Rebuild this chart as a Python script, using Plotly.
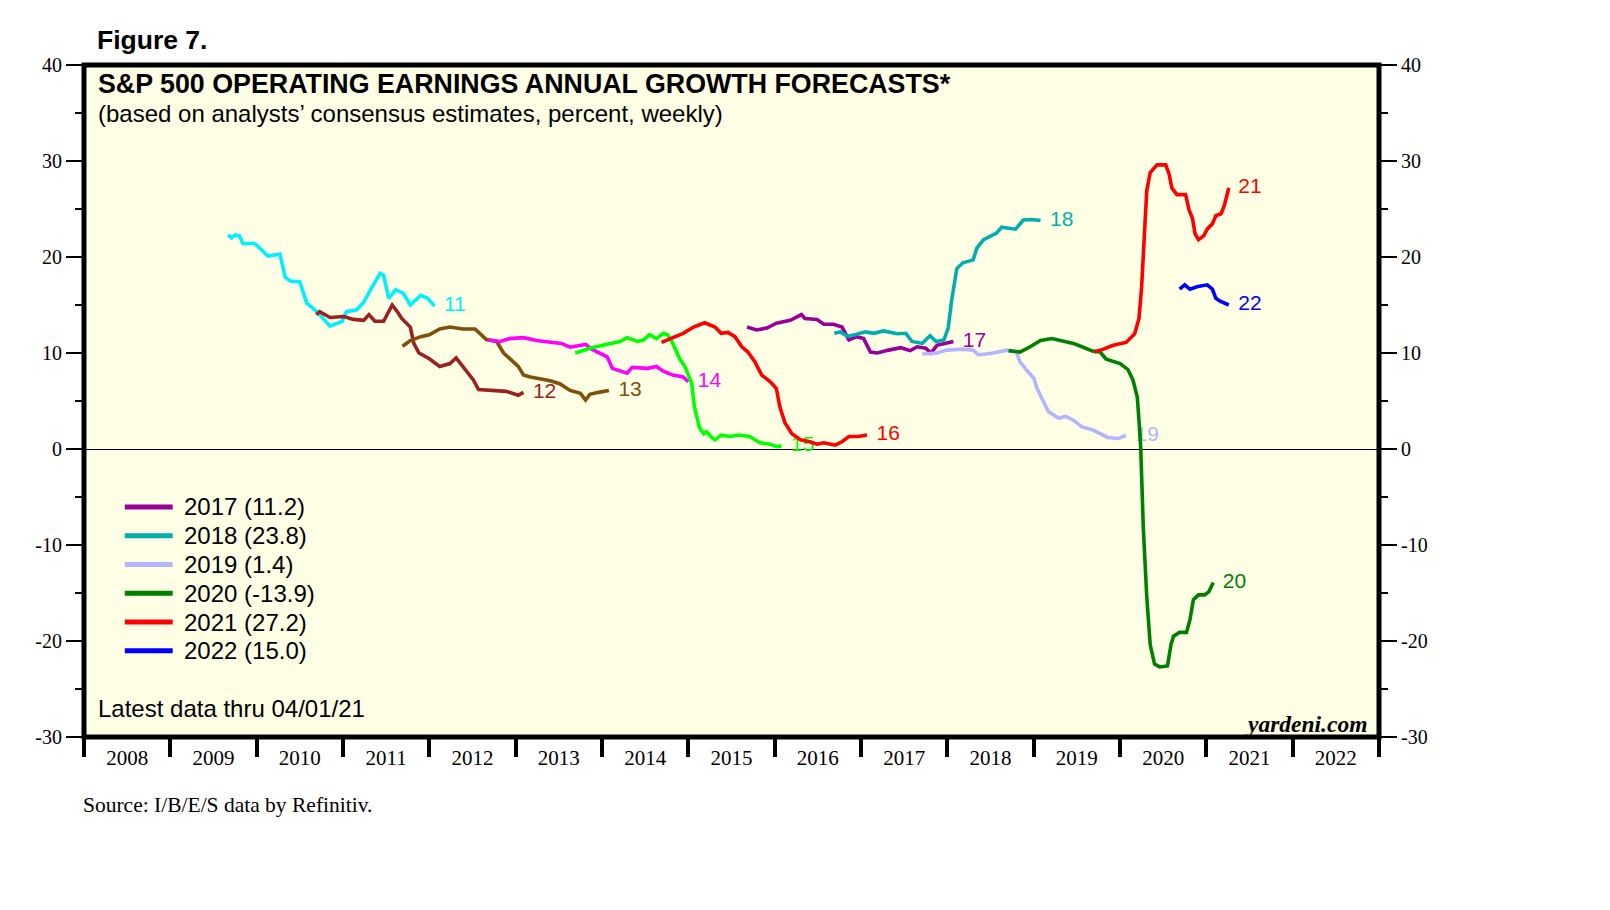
import plotly.graph_objects as go

# ---------------- data (decimal year, percent) ----------------
x2011 = [2009.67, 2009.71, 2009.75, 2009.80, 2009.84, 2009.98, 2010.13, 2010.27, 2010.33, 2010.39, 2010.50, 2010.58,
         2010.70, 2010.79, 2010.85, 2010.99, 2011.04, 2011.16, 2011.24, 2011.32, 2011.37, 2011.43, 2011.47, 2011.53,
         2011.61, 2011.70, 2011.78, 2011.90, 2011.98, 2012.06]
y2011 = [22.3, 22.0, 22.3, 22.2, 21.4, 21.4, 20.1, 20.3, 17.9, 17.5, 17.4, 15.2,
         14.3, 13.4, 12.8, 13.3, 14.3, 14.5, 15.3, 16.6, 17.4, 18.3, 18.1, 15.7,
         16.6, 16.2, 15.0, 16.0, 15.7, 14.9]

x2012 = [2010.69, 2010.73, 2010.85, 2011.01, 2011.12, 2011.24, 2011.30, 2011.37, 2011.47, 2011.57, 2011.63, 2011.68,
         2011.78, 2011.82, 2011.88, 2012.00, 2012.12, 2012.24, 2012.31, 2012.43, 2012.51, 2012.57, 2012.78, 2012.89,
         2013.03, 2013.09]
y2012 = [14.0, 14.3, 13.7, 13.8, 13.5, 13.4, 14.0, 13.3, 13.3, 15.0, 14.3, 13.6,
         12.7, 11.0, 10.0, 9.4, 8.6, 8.9, 9.5, 8.2, 7.2, 6.2, 6.1, 6.0,
         5.6, 5.9]

x2013 = [2011.69, 2011.78, 2011.90, 2012.00, 2012.12, 2012.24, 2012.39, 2012.53, 2012.66, 2012.78, 2012.86, 2012.95,
         2013.03, 2013.09, 2013.17, 2013.40, 2013.51, 2013.63, 2013.75, 2013.81, 2013.86, 2013.96, 2014.08]
y2013 = [10.7, 11.3, 11.7, 11.9, 12.5, 12.7, 12.5, 12.5, 11.4, 11.2, 10.0, 9.3,
         8.6, 7.7, 7.5, 7.1, 6.8, 6.1, 5.8, 5.1, 5.7, 5.9, 6.1]

x2014 = [2012.68, 2012.82, 2012.93, 2013.09, 2013.24, 2013.40, 2013.53, 2013.63, 2013.81, 2013.88, 2014.06, 2014.12,
         2014.29, 2014.35, 2014.53, 2014.63, 2014.71, 2014.82, 2014.94, 2015.00]
y2014 = [11.35, 11.2, 11.5, 11.6, 11.3, 11.1, 11.0, 10.6, 10.9, 10.4, 9.6, 8.4,
         7.9, 8.5, 8.4, 8.6, 8.1, 7.7, 7.5, 7.0]

x2015 = [2013.69, 2013.86, 2014.06, 2014.21, 2014.29, 2014.41, 2014.48, 2014.55, 2014.63, 2014.71, 2014.76, 2014.82,
         2014.90, 2014.96, 2015.04, 2015.07, 2015.13, 2015.18, 2015.21, 2015.27, 2015.31, 2015.38, 2015.48, 2015.58,
         2015.71, 2015.83, 2015.95, 2016.02, 2016.08]
y2015 = [10.0, 10.5, 10.9, 11.2, 11.6, 11.2, 11.35, 11.9, 11.5, 12.05, 11.9, 11.0,
         9.4, 8.6, 6.8, 4.4, 2.2, 1.6, 1.8, 1.2, 0.95, 1.45, 1.3, 1.45,
         1.3, 0.65, 0.5, 0.25, 0.3]

x2016 = [2014.69, 2014.82, 2014.94, 2015.06, 2015.19, 2015.31, 2015.38, 2015.46, 2015.54, 2015.62, 2015.69, 2015.77,
         2015.85, 2015.95, 2016.02, 2016.06, 2016.12, 2016.20, 2016.30, 2016.41, 2016.49, 2016.57, 2016.70, 2016.78,
         2016.86, 2016.97, 2017.07]
y2016 = [11.1, 11.6, 12.05, 12.7, 13.15, 12.7, 12.05, 12.15, 11.7, 10.65, 10.1, 9.1,
         7.7, 7.0, 6.3, 4.4, 2.7, 1.6, 0.95, 0.75, 0.5, 0.65, 0.4, 0.75,
         1.3, 1.3, 1.45]

x2017 = [2015.68, 2015.79, 2015.91, 2016.02, 2016.18, 2016.31, 2016.35, 2016.49, 2016.57, 2016.68, 2016.78, 2016.86,
         2016.95, 2017.03, 2017.11, 2017.19, 2017.32, 2017.46, 2017.57, 2017.65, 2017.75, 2017.81, 2017.88, 2017.97,
         2018.07]
y2017 = [12.7, 12.4, 12.6, 13.1, 13.4, 14.0, 13.6, 13.5, 13.0, 13.0, 12.7, 11.35,
         11.7, 11.5, 10.1, 10.0, 10.3, 10.55, 10.25, 10.65, 10.5, 10.0, 10.8, 10.95,
         11.2]

x2018 = [2016.69, 2016.76, 2016.84, 2016.93, 2017.05, 2017.15, 2017.26, 2017.42, 2017.52, 2017.59, 2017.71, 2017.80,
         2017.87, 2017.96, 2018.01, 2018.05, 2018.11, 2018.18, 2018.30, 2018.34, 2018.42, 2018.53, 2018.57, 2018.63,
         2018.79, 2018.88, 2018.98, 2019.08]
y2018 = [12.05, 12.2, 11.75, 11.9, 12.2, 12.05, 12.3, 12.0, 12.05, 11.2, 11.0, 11.8,
         11.2, 11.35, 12.6, 15.5, 18.8, 19.4, 19.7, 20.9, 21.8, 22.3, 22.5, 23.1,
         22.9, 23.85, 23.9, 23.8]

x2019 = [2017.71, 2017.88, 2017.99, 2018.18, 2018.30, 2018.36, 2018.53, 2018.69, 2018.80, 2018.84, 2018.92, 2019.00,
         2019.04, 2019.10, 2019.17, 2019.29, 2019.37, 2019.46, 2019.56, 2019.68, 2019.77, 2019.86, 2019.98, 2020.07]
y2019 = [9.9, 10.0, 10.3, 10.4, 10.3, 9.8, 10.0, 10.3, 10.1, 9.1, 8.2, 7.4,
         6.3, 5.1, 3.9, 3.2, 3.4, 3.0, 2.3, 2.0, 1.6, 1.2, 1.1, 1.4]

x2020 = [2018.71, 2018.84, 2018.96, 2019.08, 2019.21, 2019.34, 2019.46, 2019.56, 2019.68, 2019.77, 2019.84, 2020.00,
         2020.09, 2020.15, 2020.20, 2020.22, 2020.24, 2020.27, 2020.31, 2020.35, 2020.40, 2020.46, 2020.55, 2020.59,
         2020.62, 2020.69, 2020.77, 2020.81, 2020.85, 2020.91, 2020.98, 2021.03, 2021.08]
y2020 = [10.25, 10.1, 10.65, 11.3, 11.5, 11.2, 11.0, 10.65, 10.2, 10.1, 9.35, 8.9,
         8.3, 7.2, 5.4, 3.0, 0.1, -8.2, -15.4, -20.4, -22.4, -22.7, -22.6, -20.4,
         -19.5, -19.1, -19.1, -17.8, -15.7, -15.2, -15.2, -14.85, -13.9]

x2021 = [2019.70, 2019.81, 2019.92, 2020.07, 2020.17, 2020.22, 2020.25, 2020.28, 2020.31, 2020.35, 2020.43, 2020.53,
         2020.57, 2020.60, 2020.66, 2020.76, 2020.80, 2020.84, 2020.87, 2020.91, 2020.97, 2021.01, 2021.07, 2021.11,
         2021.17, 2021.21, 2021.26]
y2021 = [10.1, 10.4, 10.8, 11.1, 12.0, 13.6, 16.8, 22.2, 26.9, 28.8, 29.6, 29.6,
         28.6, 27.2, 26.5, 26.5, 24.9, 24.0, 22.4, 21.8, 22.2, 22.9, 23.45, 24.3,
         24.5, 25.4, 27.2]

x2022 = [2020.69, 2020.75, 2020.81, 2020.89, 2021.01, 2021.07, 2021.11, 2021.16, 2021.26]
y2022 = [16.65, 17.1, 16.65, 16.9, 17.1, 16.65, 15.7, 15.4, 15.0]

series_years = [2011, 2012, 2013, 2014, 2015, 2016, 2017, 2018, 2019, 2020, 2021, 2022]
series_x = [x2011, x2012, x2013, x2014, x2015, x2016, x2017, x2018, x2019, x2020, x2021, x2022]
series_y = [y2011, y2012, y2013, y2014, y2015, y2016, y2017, y2018, y2019, y2020, y2021, y2022]
legend_years = [2017, 2018, 2019, 2020, 2021, 2022]

year_ticks = list(range(2008, 2023))
y_ticks = [-30, -20, -10, 0, 10, 20, 30, 40]
y_ticktext = ["-30", "-20", "-10", "0", "10", "20", "30", "40"]

# ---------------- styles ----------------
colors = {
    2011: "#00F0FF", 2012: "#9C2121", 2013: "#80500A", 2014: "#FF00FF",
    2015: "#00FF00", 2016: "#FF0000", 2017: "#990099", 2018: "#00AEAE",
    2019: "#B4B4FF", 2020: "#008000", 2021: "#FF0000", 2022: "#0000FF",
}
SANS = "Liberation Sans, Arial, sans-serif"
SERIF = "Liberation Serif, Times New Roman, serif"
LABEL_GAP = 0.11

fig = go.Figure()

# end-of-line labels first (lines drawn on top, as in the original)
for yr, xs, ys in zip(series_years, series_x, series_y):
    fig.add_trace(go.Scatter(
        x=[xs[-1] + LABEL_GAP], y=[ys[-1]], mode="text", text=[str(yr)[-2:]],
        textposition="middle right",
        textfont=dict(family=SANS, size=21, color=colors[yr]),
        showlegend=False, hoverinfo="skip"))

for yr, xs, ys in zip(series_years, series_x, series_y):
    fig.add_trace(go.Scatter(
        x=xs, y=ys, mode="lines", name=str(yr),
        line=dict(color=colors[yr], width=3.6, shape="linear"),
        showlegend=False))

# dummy trace for right axis
fig.add_trace(go.Scatter(x=[None], y=[None], yaxis="y2", showlegend=False, hoverinfo="skip"))

axis_y_common = dict(
    range=[-30, 40], tickmode="array", tickvals=y_ticks, ticktext=y_ticktext,
    ticks="outside", ticklen=17, tickwidth=1.5, tickcolor="black",
    minor=dict(dtick=5, tick0=0, ticks="outside", ticklen=8, tickwidth=1.5, tickcolor="black"),
    showgrid=False, tickfont=dict(family=SERIF, size=20, color="black"),
    showline=False, fixedrange=True,
)

# page body has an 8px margin, so the figure is 1600x900 and shifted accordingly
fig.update_layout(
    width=1600, height=900,
    margin=dict(l=76, r=229, t=57, b=171),
    paper_bgcolor="white", plot_bgcolor="#FFFFE5",
    xaxis=dict(
        range=[2008, 2023], tickmode="array",
        tickvals=[y + 0.5 for y in year_ticks], ticktext=[str(y) for y in year_ticks],
        ticks="outside", ticklen=2, tickcolor="rgba(0,0,0,0)",
        minor=dict(tickmode="array", tickvals=year_ticks + [2023], ticks="outside",
                   ticklen=19, tickwidth=4, tickcolor="black"),
        showgrid=False, zeroline=False, showline=False,
        tickfont=dict(family=SERIF, size=21, color="black"),
    ),
    yaxis=dict(**axis_y_common, zeroline=True, zerolinecolor="black", zerolinewidth=1.3, side="left"),
    yaxis2=dict(**axis_y_common, zeroline=False, overlaying="y", side="right"),
    showlegend=False,
)

# frame
fig.add_shape(type="rect", xref="paper", yref="paper", x0=0, x1=1, y0=0, y1=1,
              line=dict(color="black", width=5), fillcolor="rgba(0,0,0,0)", layer="above")

def ann(text, x, y, size, family=SANS, xanchor="left", bold=False, italic=False, color="black"):
    t = text
    if bold:
        t = "<b>" + t + "</b>"
    if italic:
        t = "<i>" + t + "</i>"
    fig.add_annotation(text=t, x=x, y=y, xref="paper", yref="paper", showarrow=False,
                       xanchor=xanchor, yanchor="middle",
                       font=dict(family=family, size=size, color=color))

ann("Figure 7.", 0.0083, 1.0372, 26.5, bold=True)
ann("S&amp;P 500 OPERATING EARNINGS ANNUAL GROWTH FORECASTS*", 0.0093, 0.9717, 26.8, bold=True)
ann("(based on analysts’ consensus estimates, percent, weekly)", 0.0093, 0.9285, 24)
ann("Latest data thru 04/01/21", 0.0093, 0.0417, 24)
ann("yardeni.com", 0.9925, 0.0193, 23.5, family=SERIF, xanchor="right", bold=True, italic=True)
ann("Source: I/B/E/S data by Refinitiv.", -0.002, -0.1012, 21.5, family=SERIF)

# legend (lines + text) for the latest six forecast years
for i, yr in enumerate(legend_years):
    ys = series_y[series_years.index(yr)]
    yp = 0.3423 - i * 0.0428
    fig.add_shape(type="line", xref="paper", yref="paper", x0=0.0315, x1=0.0685, y0=yp, y1=yp,
                  line=dict(color=colors[yr], width=5))
    ann(f"{yr} ({ys[-1]:.1f})", 0.0758, yp, 24)

fig.write_html("out.html")
